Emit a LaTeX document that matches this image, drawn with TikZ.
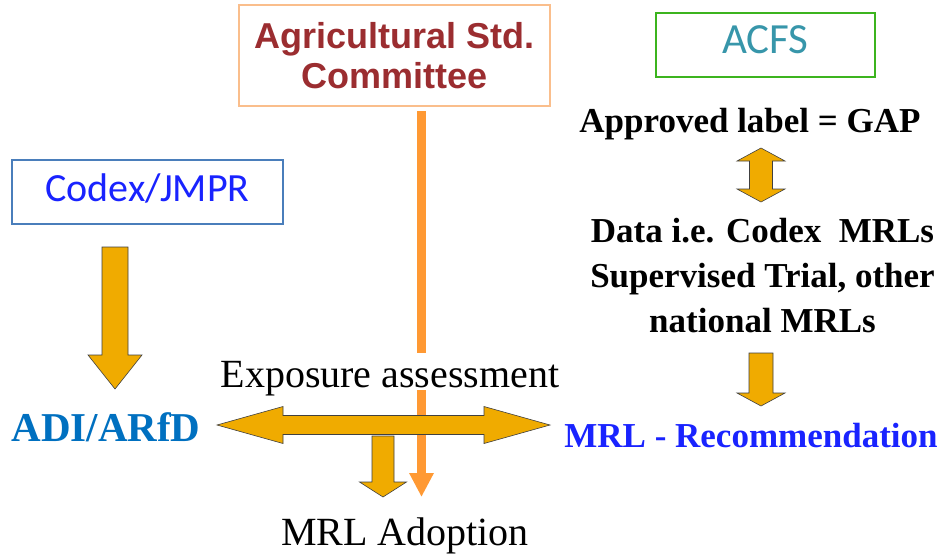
\documentclass[tikz,border=0pt]{standalone}
\usepackage{fontspec}
\setmainfont{Liberation Serif}
\newfontfamily\arialfont{Liberation Sans}
\newfontfamily\calfont{Carlito}
\definecolor{myorange}{RGB}{255,153,51}
\definecolor{mygold}{RGB}{240,171,0}
\definecolor{myred}{RGB}{155,45,48}
\definecolor{mypeach}{RGB}{250,190,140}
\definecolor{mygreen}{RGB}{60,180,30}
\definecolor{myteal}{RGB}{55,150,170}
\definecolor{mysteel}{RGB}{74,126,187}
\definecolor{myblue}{RGB}{25,35,255}
\definecolor{adiblue}{RGB}{0,112,192}
\usetikzlibrary{positioning,arrows.meta}

% block arrow pointing down: start, shaft half, head half, shaft length, head length
\newcommand{\downblock}[5]{%
  \draw[blockarrow] (#1) ++(-#2,0) -- ++({2*#2},0) -- ++(0,-#4) -- ++({#3-#2},0)
    -- ++(-#3,-#5) -- ++(-#3,#5) -- ++({#3-#2},0) -- cycle;}

\begin{document}
\begin{tikzpicture}[x=1pt,y=1pt,
    blockarrow/.style={fill=mygold,draw=black!75,line width=0.6pt,line join=miter},
    boldlbl/.style={font=\bfseries\fontsize{35}{42}\selectfont,text height=24pt,text depth=8pt,inner sep=0pt},
    plainlbl/.style={font=\fontsize{40}{48}\selectfont,inner sep=0pt},
    node distance=45pt
    ]
    \fill[white] (0,0) rectangle (942,-555);
    \useasboundingbox (0,0) rectangle (942,-555);

    % the boxes
    \node (agr) [draw=mypeach,line width=1.2pt,minimum width=311pt,minimum height=101pt,
      align=center,text=myred,font=\arialfont\bfseries\fontsize{36}{40}\selectfont]
      at (394.5,-55.5) {Agricultural Std.\\Committee};
    \node (acfs) [draw=mygreen,line width=1.5pt,minimum width=219pt,minimum height=64pt,
      text=myteal,font=\calfont\fontsize{43}{48}\selectfont,text height=27pt,text depth=11pt]
      at (765.5,-45) {ACFS};
    \node (codex) [draw=mysteel,line width=1.5pt,minimum width=271pt,minimum height=64pt,
      text=myblue,font=\calfont\fontsize{40}{48}\selectfont,text height=26pt,text depth=8pt]
      at (147.5,-192) {Codex/JMPR};

    % orange line from the committee
    \coordinate (ot) at (421.5,-111);
    \coordinate (ob) at (421.5,-497);
    \draw[myorange,line width=9pt,-{Triangle[width=23pt,length=24pt]}] (ot) -- (ob);

    % the labels
    \node (expo) [plainlbl,fill=white,text height=34pt,text depth=3pt,anchor=base] at (390,-387) {Exposure assessment};
    \node (adopt) [plainlbl,anchor=base] at (405,-545) {MRL Adoption};
    \node (adi) [font=\bfseries\fontsize{41}{48}\selectfont,text=adiblue,inner sep=0pt,anchor=base] at (106,-441) {ADI/ARfD};
    \node (rec) [font=\bfseries\fontsize{35}{42}\selectfont,text=myblue,inner sep=0pt,anchor=base] at (751,-447) {MRL - Recommendation};
    \node (gap) [boldlbl,anchor=base] at (750,-132) {Approved label = GAP};
    \node (data) [boldlbl,anchor=base] at (762.5,-242) {Data i.e. Codex\ \ MRLs};
    \node (trial) [boldlbl,below of=data] {Supervised Trial, other};
    \node (natl) [boldlbl,below of=trial] {national MRLs};

    % the block arrows
    \coordinate (c1) at (115,-247);
    \coordinate (c2) at (383,-436);
    \coordinate (c3) at (761,-353);
    \coordinate (hl) at (217,-425);
    \coordinate (vt) at (761,-148);
    \downblock{c1}{13}{27}{108}{34}
    \draw[blockarrow] (hl) -- ++(66,18.5) -- ++(0,-9) -- ++(201,0) -- ++(0,9) -- ++(66,-18.5)
      -- ++(-66,-18.5) -- ++(0,9) -- ++(-201,0) -- ++(0,-9) -- cycle;
    \downblock{c2}{11}{23.5}{46}{15}
    \downblock{c3}{12}{24}{40}{13}
    \draw[blockarrow] (vt) -- ++(24,-13) -- ++(-12.5,0) -- ++(0,-28) -- ++(12.5,0) -- ++(-24,-13)
      -- ++(-24,13) -- ++(12.5,0) -- ++(0,28) -- ++(-12.5,0) -- cycle;
\end{tikzpicture}
\end{document}
